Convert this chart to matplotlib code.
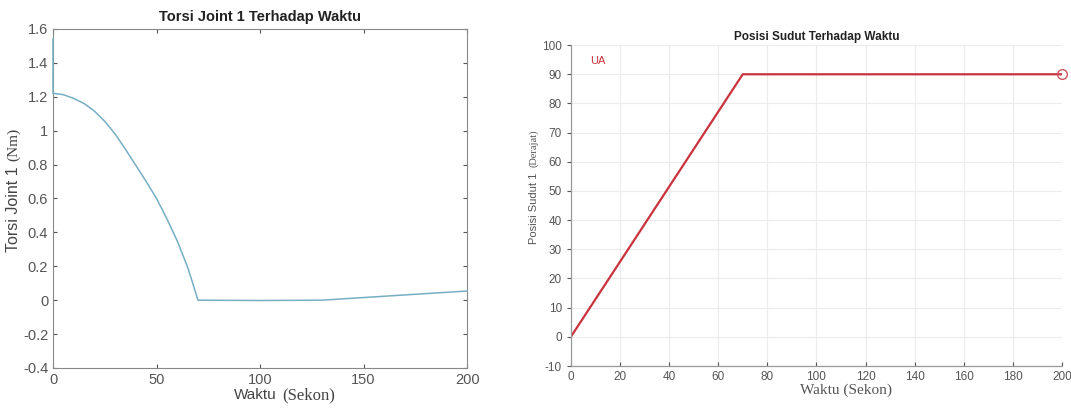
import matplotlib.pyplot as plt
import numpy as np

plt.rcParams['axes.unicode_minus'] = False

# torque of joint 1
torsi_t = [0, 0, 5, 10, 15, 20, 25, 30, 35, 40, 45, 50, 55, 60, 65, 67.5, 70, 100, 130, 200]
torsi_val = [1.54, 1.22, 1.212, 1.19, 1.16, 1.115, 1.055, 0.98, 0.89, 0.795, 0.70, 0.60,
             0.48, 0.35, 0.195, 0.10, 0.0, -0.002, 0.0, 0.054]

# angle position of joint 1
sudut_t = [0, 70, 200]
sudut_val = [0, 90, 90]

torsi_yticks = [-0.4, -0.2, 0, 0.2, 0.4, 0.6, 0.8, 1, 1.2, 1.4, 1.6]
torsi_xticks = [0, 50, 100, 150, 200]
sudut_yticks = list(range(-10, 101, 10))
sudut_xticks = list(range(0, 201, 20))

fig = plt.figure(figsize=(10.71, 4.13), dpi=100)
sans = 'Liberation Sans'
serif = 'Liberation Serif'
gray = '#555555'

# ---- left chart ----
ax1 = fig.add_axes([0.0495, 0.109, 0.3866, 0.821])
ax1.plot(torsi_t, torsi_val, color='#76aec4', lw=1.1, clip_on=False, zorder=3)
ax1.set_xlim(0, 200)
ax1.set_ylim(-0.4, 1.6)
ax1.set_xticks(torsi_xticks)
ax1.set_yticks(torsi_yticks)
ax1.set_yticklabels(['%g' % v for v in torsi_yticks])
ax1.tick_params(direction='in', top=True, right=True, labelsize=10.5, colors=gray, length=3)
for s in ax1.spines.values():
    s.set_color('#888888')
    s.set_linewidth(0.8)
for lab in ax1.get_xticklabels() + ax1.get_yticklabels():
    lab.set_family(sans)
ax1.set_title('Torsi Joint 1 Terhadap Waktu', fontsize=10.5, fontweight='bold',
              family=sans, color='#222222', pad=6)
ax1.text(0.541, -0.08, 'Waktu', transform=ax1.transAxes, ha='right', va='center',
         fontsize=11, family=sans, color='#444444')
ax1.text(0.553, -0.08, '(Sekon)', transform=ax1.transAxes, ha='left', va='center',
         fontsize=12, family=serif, color='#444444')
ax1.text(-0.095, 0.595, 'Torsi Joint 1', transform=ax1.transAxes, ha='center', va='top',
         rotation=90, fontsize=11.5, family=sans, color='#444444')
ax1.text(-0.095, 0.61, '(Nm)', transform=ax1.transAxes, ha='center', va='bottom',
         rotation=90, fontsize=11, family=serif, color='#444444')

# ---- right chart ----
ax2 = fig.add_axes([0.533, 0.1138, 0.4586, 0.777])
ax2.plot(sudut_t, sudut_val, color='#c9333d', lw=1.6)
ax2.plot(sudut_t[-1], sudut_val[-1], 'o', mfc='none', mec='#d2555d', ms=7, mew=1,
         clip_on=False, zorder=4)
ax2.set_xlim(0, 200)
ax2.set_ylim(-10, 100)
ax2.set_xticks(sudut_xticks)
ax2.set_yticks(sudut_yticks)
ax2.grid(True, color='#ececec', lw=0.8)
ax2.set_axisbelow(True)
ax2.spines['top'].set_visible(False)
ax2.spines['right'].set_visible(False)
for s in ['left', 'bottom']:
    ax2.spines[s].set_color('#999999')
    ax2.spines[s].set_linewidth(0.9)
ax2.tick_params(axis='x', direction='in', labelsize=8.5, colors=gray, length=3)
ax2.tick_params(axis='y', direction='out', labelsize=8.5, colors=gray, length=3)
for lab in ax2.get_xticklabels() + ax2.get_yticklabels():
    lab.set_family(sans)
ax2.set_title('Posisi Sudut Terhadap Waktu', fontsize=8.5, fontweight='bold',
              family=sans, color='#222222', pad=4)
ax2.text(8, 94.5, 'UA', fontsize=8, family=sans, color='#c9333d', va='center')
ax2.text(0.56, -0.075, 'Waktu (Sekon)', transform=ax2.transAxes, ha='center', va='center',
         fontsize=11, family=serif, color='#555555')
ax2.text(-0.075, 0.38, 'Posisi Sudut 1', transform=ax2.transAxes, ha='center', va='bottom',
         rotation=90, fontsize=8, family=sans, color='#555555')
ax2.text(-0.075, 0.62, '(Derajat)', transform=ax2.transAxes, ha='center', va='bottom',
         rotation=90, fontsize=7.5, family=serif, color='#555555')

fig.savefig('out.png', dpi=100)
